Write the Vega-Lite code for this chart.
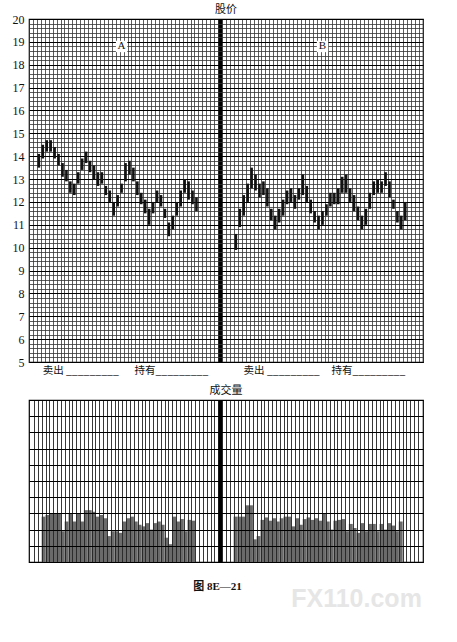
{
  "$schema": "https://vega.github.io/schema/vega-lite/v6.json",
  "background": "white",
  "padding": {"left": 11, "top": 3, "right": 5, "bottom": 5},
  "spacing": 7,
  "config": {
    "view": {"stroke": "#000", "strokeWidth": 1.2},
    "title": {"font": "Noto Sans CJK SC", "fontSize": 11, "fontWeight": "normal", "color": "#111"}
  },
  "datasets": {
    "price": [
      {"panel": "A", "day": 2, "low": 13.5, "high": 14.1},
      {"panel": "A", "day": 3, "low": 13.9, "high": 14.5},
      {"panel": "A", "day": 4, "low": 14.2, "high": 14.7},
      {"panel": "A", "day": 5, "low": 14.2, "high": 14.7},
      {"panel": "A", "day": 6, "low": 13.9, "high": 14.4},
      {"panel": "A", "day": 7, "low": 13.6, "high": 14.1},
      {"panel": "A", "day": 8, "low": 13.1, "high": 13.7},
      {"panel": "A", "day": 9, "low": 12.9, "high": 13.4},
      {"panel": "A", "day": 10, "low": 12.4, "high": 12.9},
      {"panel": "A", "day": 11, "low": 12.3, "high": 12.8},
      {"panel": "A", "day": 12, "low": 12.8, "high": 13.3},
      {"panel": "A", "day": 13, "low": 13.4, "high": 13.9},
      {"panel": "A", "day": 14, "low": 13.7, "high": 14.2},
      {"panel": "A", "day": 15, "low": 13.3, "high": 13.8},
      {"panel": "A", "day": 16, "low": 13.0, "high": 13.6},
      {"panel": "A", "day": 17, "low": 12.7, "high": 13.3},
      {"panel": "A", "day": 18, "low": 12.8, "high": 13.3},
      {"panel": "A", "day": 19, "low": 12.3, "high": 12.7},
      {"panel": "A", "day": 20, "low": 12.0, "high": 12.5},
      {"panel": "A", "day": 21, "low": 11.4, "high": 12.0},
      {"panel": "A", "day": 22, "low": 11.8, "high": 12.3},
      {"panel": "A", "day": 23, "low": 12.4, "high": 12.8},
      {"panel": "A", "day": 24, "low": 12.9, "high": 13.7},
      {"panel": "A", "day": 25, "low": 13.2, "high": 13.8},
      {"panel": "A", "day": 26, "low": 12.9, "high": 13.5},
      {"panel": "A", "day": 27, "low": 12.3, "high": 12.9},
      {"panel": "A", "day": 28, "low": 11.9, "high": 12.4},
      {"panel": "A", "day": 29, "low": 11.5, "high": 12.1},
      {"panel": "A", "day": 30, "low": 11.0, "high": 11.7},
      {"panel": "A", "day": 31, "low": 11.5, "high": 12.0},
      {"panel": "A", "day": 32, "low": 12.0, "high": 12.5},
      {"panel": "A", "day": 33, "low": 11.8, "high": 12.3},
      {"panel": "A", "day": 34, "low": 11.3, "high": 11.7},
      {"panel": "A", "day": 35, "low": 10.5, "high": 11.1},
      {"panel": "A", "day": 36, "low": 10.8, "high": 11.4},
      {"panel": "A", "day": 37, "low": 11.4, "high": 12.0},
      {"panel": "A", "day": 38, "low": 11.8, "high": 12.5},
      {"panel": "A", "day": 39, "low": 12.4, "high": 13.0},
      {"panel": "A", "day": 40, "low": 12.1, "high": 12.9},
      {"panel": "A", "day": 41, "low": 11.9, "high": 12.5},
      {"panel": "A", "day": 42, "low": 11.6, "high": 12.2},
      {"panel": "B", "day": 52, "low": 9.9, "high": 10.6},
      {"panel": "B", "day": 53, "low": 10.9, "high": 11.7},
      {"panel": "B", "day": 54, "low": 11.4, "high": 12.3},
      {"panel": "B", "day": 55, "low": 12.0, "high": 12.8},
      {"panel": "B", "day": 56, "low": 12.6, "high": 13.5},
      {"panel": "B", "day": 57, "low": 12.5, "high": 13.2},
      {"panel": "B", "day": 58, "low": 12.2, "high": 12.8},
      {"panel": "B", "day": 59, "low": 12.3, "high": 12.9},
      {"panel": "B", "day": 60, "low": 11.8, "high": 12.6},
      {"panel": "B", "day": 61, "low": 11.2, "high": 11.7},
      {"panel": "B", "day": 62, "low": 10.8, "high": 11.4},
      {"panel": "B", "day": 63, "low": 11.1, "high": 11.7},
      {"panel": "B", "day": 64, "low": 11.4, "high": 12.1},
      {"panel": "B", "day": 65, "low": 11.9, "high": 12.5},
      {"panel": "B", "day": 66, "low": 12.0, "high": 12.6},
      {"panel": "B", "day": 67, "low": 11.7, "high": 12.3},
      {"panel": "B", "day": 68, "low": 12.1, "high": 12.6},
      {"panel": "B", "day": 69, "low": 12.3, "high": 13.2},
      {"panel": "B", "day": 70, "low": 12.0, "high": 12.7},
      {"panel": "B", "day": 71, "low": 11.5, "high": 12.1},
      {"panel": "B", "day": 72, "low": 11.1, "high": 11.6},
      {"panel": "B", "day": 73, "low": 10.8, "high": 11.4},
      {"panel": "B", "day": 74, "low": 11.0, "high": 11.6},
      {"panel": "B", "day": 75, "low": 11.4, "high": 11.9},
      {"panel": "B", "day": 76, "low": 11.8, "high": 12.4},
      {"panel": "B", "day": 77, "low": 11.9, "high": 12.4},
      {"panel": "B", "day": 78, "low": 11.9, "high": 12.6},
      {"panel": "B", "day": 79, "low": 12.4, "high": 13.1},
      {"panel": "B", "day": 80, "low": 12.4, "high": 13.2},
      {"panel": "B", "day": 81, "low": 12.0, "high": 12.6},
      {"panel": "B", "day": 82, "low": 11.6, "high": 12.3},
      {"panel": "B", "day": 83, "low": 11.2, "high": 11.8},
      {"panel": "B", "day": 84, "low": 10.8, "high": 11.4},
      {"panel": "B", "day": 85, "low": 11.0, "high": 11.7},
      {"panel": "B", "day": 86, "low": 11.7, "high": 12.4},
      {"panel": "B", "day": 87, "low": 12.3, "high": 12.9},
      {"panel": "B", "day": 88, "low": 12.4, "high": 13.0},
      {"panel": "B", "day": 89, "low": 12.4, "high": 12.9},
      {"panel": "B", "day": 90, "low": 12.7, "high": 13.3},
      {"panel": "B", "day": 91, "low": 12.2, "high": 12.9},
      {"panel": "B", "day": 92, "low": 11.7, "high": 12.1},
      {"panel": "B", "day": 93, "low": 11.1, "high": 11.6},
      {"panel": "B", "day": 94, "low": 10.8, "high": 11.4},
      {"panel": "B", "day": 95, "low": 11.2, "high": 12.0}
    ],
    "volume": [
      {"panel": "A", "day": 2, "volume": 2.8},
      {"panel": "A", "day": 3, "volume": 2.9},
      {"panel": "A", "day": 4, "volume": 3.0},
      {"panel": "A", "day": 5, "volume": 3.0},
      {"panel": "A", "day": 6, "volume": 3.0},
      {"panel": "A", "day": 7, "volume": 1.9},
      {"panel": "A", "day": 8, "volume": 2.5},
      {"panel": "A", "day": 9, "volume": 3.0},
      {"panel": "A", "day": 10, "volume": 2.5},
      {"panel": "A", "day": 11, "volume": 3.0},
      {"panel": "A", "day": 12, "volume": 2.5},
      {"panel": "A", "day": 13, "volume": 3.2},
      {"panel": "A", "day": 14, "volume": 3.2},
      {"panel": "A", "day": 15, "volume": 3.1},
      {"panel": "A", "day": 16, "volume": 2.8},
      {"panel": "A", "day": 17, "volume": 2.9},
      {"panel": "A", "day": 18, "volume": 2.7},
      {"panel": "A", "day": 19, "volume": 1.6},
      {"panel": "A", "day": 20, "volume": 1.9},
      {"panel": "A", "day": 21, "volume": 1.9},
      {"panel": "A", "day": 22, "volume": 1.8},
      {"panel": "A", "day": 23, "volume": 2.5},
      {"panel": "A", "day": 24, "volume": 2.7},
      {"panel": "A", "day": 25, "volume": 2.8},
      {"panel": "A", "day": 26, "volume": 2.5},
      {"panel": "A", "day": 27, "volume": 2.3},
      {"panel": "A", "day": 28, "volume": 2.2},
      {"panel": "A", "day": 29, "volume": 2.4},
      {"panel": "A", "day": 30, "volume": 2.0},
      {"panel": "A", "day": 31, "volume": 2.4},
      {"panel": "A", "day": 32, "volume": 2.5},
      {"panel": "A", "day": 33, "volume": 2.3},
      {"panel": "A", "day": 34, "volume": 1.5},
      {"panel": "A", "day": 35, "volume": 1.1},
      {"panel": "A", "day": 36, "volume": 2.8},
      {"panel": "A", "day": 37, "volume": 2.5},
      {"panel": "A", "day": 38, "volume": 2.65},
      {"panel": "A", "day": 39, "volume": 1.9},
      {"panel": "A", "day": 40, "volume": 2.6},
      {"panel": "A", "day": 41, "volume": 2.55},
      {"panel": "B", "day": 52, "volume": 2.8},
      {"panel": "B", "day": 53, "volume": 2.8},
      {"panel": "B", "day": 54, "volume": 2.8},
      {"panel": "B", "day": 55, "volume": 3.5},
      {"panel": "B", "day": 56, "volume": 3.5},
      {"panel": "B", "day": 57, "volume": 1.4},
      {"panel": "B", "day": 58, "volume": 1.6},
      {"panel": "B", "day": 59, "volume": 2.6},
      {"panel": "B", "day": 60, "volume": 2.75},
      {"panel": "B", "day": 61, "volume": 2.55},
      {"panel": "B", "day": 62, "volume": 2.7},
      {"panel": "B", "day": 63, "volume": 2.5},
      {"panel": "B", "day": 64, "volume": 2.7},
      {"panel": "B", "day": 65, "volume": 2.8},
      {"panel": "B", "day": 66, "volume": 2.8},
      {"panel": "B", "day": 67, "volume": 2.2},
      {"panel": "B", "day": 68, "volume": 2.7},
      {"panel": "B", "day": 69, "volume": 2.3},
      {"panel": "B", "day": 70, "volume": 2.65},
      {"panel": "B", "day": 71, "volume": 2.75},
      {"panel": "B", "day": 72, "volume": 2.6},
      {"panel": "B", "day": 73, "volume": 2.7},
      {"panel": "B", "day": 74, "volume": 2.55},
      {"panel": "B", "day": 75, "volume": 3.0},
      {"panel": "B", "day": 76, "volume": 2.5},
      {"panel": "B", "day": 77, "volume": 2.0},
      {"panel": "B", "day": 78, "volume": 2.55},
      {"panel": "B", "day": 79, "volume": 2.6},
      {"panel": "B", "day": 80, "volume": 2.65},
      {"panel": "B", "day": 81, "volume": 1.9},
      {"panel": "B", "day": 82, "volume": 2.35},
      {"panel": "B", "day": 83, "volume": 2.1},
      {"panel": "B", "day": 84, "volume": 1.8},
      {"panel": "B", "day": 85, "volume": 2.4},
      {"panel": "B", "day": 86, "volume": 1.9},
      {"panel": "B", "day": 87, "volume": 2.35},
      {"panel": "B", "day": 88, "volume": 2.35},
      {"panel": "B", "day": 89, "volume": 1.9},
      {"panel": "B", "day": 90, "volume": 2.35},
      {"panel": "B", "day": 91, "volume": 2.0},
      {"panel": "B", "day": 92, "volume": 2.4},
      {"panel": "B", "day": 93, "volume": 2.25},
      {"panel": "B", "day": 94, "volume": 1.9},
      {"panel": "B", "day": 95, "volume": 2.5}
    ],
    "labels": [
      {"name": "A", "day": 23, "price": 18.8},
      {"name": "B", "day": 74, "price": 18.8}
    ]
  },
  "vconcat": [
    {
      "width": 394,
      "height": 343,
      "title": {"text": "股价", "offset": -2},
      "layer": [
        {
          "data": {"name": "price"},
          "mark": {"type": "rule", "strokeWidth": 2.6, "color": "#111"},
          "encoding": {
            "x": {
              "field": "day", "type": "quantitative",
              "scale": {"domain": [-0.5, 99.5], "nice": false, "zero": false},
              "axis": {
                "title": null,
                "tickCount": 1000,
                "values": [-0.5,0.5,1.5,2.5,3.5,4.5,5.5,6.5,7.5,8.5,9.5,10.5,11.5,12.5,13.5,14.5,15.5,16.5,17.5,18.5,19.5,20.5,21.5,22.5,23.5,24.5,25.5,26.5,27.5,28.5,29.5,30.5,31.5,32.5,33.5,34.5,35.5,36.5,37.5,38.5,39.5,40.5,41.5,42.5,43.5,44.5,45.5,46.5,47.5,48,48.5,49.5,50.5,51.5,52.5,53.5,54.5,55.5,56.5,57.5,58.5,59.5,60.5,61.5,62.5,63.5,64.5,65.5,66.5,67.5,68.5,69.5,70.5,71.5,72.5,73.5,74.5,75.5,76.5,77.5,78.5,79.5,80.5,81.5,82.5,83.5,84.5,85.5,86.5,87.5,88.5,89.5,90.5,91.5,92.5,93.5,94.5,95.5,96.5,97.5,98.5,99.5],
                "grid": true,
                "gridColor": {"condition": {"test": "datum.value === 48", "value": "#000"}, "value": "#333"},
                "gridWidth": {"condition": {"test": "datum.value === 48", "value": 4.2}, "value": 0.8},
                "gridOpacity": 1,
                "ticks": false,
                "domain": false,
                "labelExpr": "datum.value === 12.5 || datum.value === 63.5 ? '卖出 _________' : (datum.value === 35.5 || datum.value === 85.5 ? '持有_________' : '')",
                "labelFont": "Noto Sans CJK SC",
                "labelFontSize": 10.5,
                "labelColor": "#111",
                "labelPadding": 3,
                "labelOverlap": false,
                "labelBound": false,
                "labelFlush": false,
                "labelAngle": 0
              }
            },
            "y": {
              "field": "low", "type": "quantitative",
              "scale": {"domain": [5, 20], "nice": false, "zero": false},
              "axis": {
                "title": null,
                "tickCount": 1000,
                "values": [5,5.2,5.4,5.6,5.8,6,6.2,6.4,6.6,6.8,7,7.2,7.4,7.6,7.8,8,8.2,8.4,8.6,8.8,9,9.2,9.4,9.6,9.8,10,10.2,10.4,10.6,10.8,11,11.2,11.4,11.6,11.8,12,12.2,12.4,12.6,12.8,13,13.2,13.4,13.6,13.8,14,14.2,14.4,14.6,14.8,15,15.2,15.4,15.6,15.8,16,16.2,16.4,16.6,16.8,17,17.2,17.4,17.6,17.8,18,18.2,18.4,18.6,18.8,19,19.2,19.4,19.6,19.8,20],
                "grid": true,
                "gridColor": {"condition": {"test": "datum.value % 1 === 0", "value": "#000"}, "value": "#333"},
                "gridWidth": {"condition": {"test": "datum.value % 1 === 0", "value": 1.1}, "value": 0.8},
                "ticks": false,
                "domain": false,
                "labelExpr": "datum.value % 1 === 0 ? format(datum.value, 'd') : ''",
                "labelFont": "Liberation Serif",
                "labelFontSize": 12,
                "labelColor": "#111",
                "labelPadding": 5,
                "labelOverlap": false,
                "labelBound": false,
                "labelFlush": false
              }
            },
            "y2": {"field": "high"}
          }
        },
        {
          "data": {"name": "labels"},
          "mark": {"type": "square", "filled": true, "color": "white", "opacity": 1, "size": 130},
          "encoding": {
            "x": {"field": "day", "type": "quantitative"},
            "y": {"field": "price", "type": "quantitative"}
          }
        },
        {
          "data": {"name": "labels"},
          "mark": {"type": "text", "font": "Liberation Serif", "fontSize": 11, "color": "#111"},
          "encoding": {
            "x": {"field": "day", "type": "quantitative"},
            "y": {"field": "price", "type": "quantitative"},
            "text": {"field": "name"}
          }
        }
      ]
    },
    {
      "width": 394,
      "height": 162,
      "title": {"text": "成交量", "offset": 4},
      "layer": [
        {
          "data": {"name": "volume"},
          "mark": {"type": "bar", "size": 3.9, "color": "#6a6a6a"},
          "encoding": {
            "x": {
              "field": "day", "type": "quantitative",
              "scale": {"domain": [-0.5, 99.5], "nice": false, "zero": false},
              "axis": {
                "title": null,
                "tickCount": 1000,
                "values": [-0.5,0.5,1.5,2.5,3.5,4.5,5.5,6.5,7.5,8.5,9.5,10.5,11.5,12.5,13.5,14.5,15.5,16.5,17.5,18.5,19.5,20.5,21.5,22.5,23.5,24.5,25.5,26.5,27.5,28.5,29.5,30.5,31.5,32.5,33.5,34.5,35.5,36.5,37.5,38.5,39.5,40.5,41.5,42.5,43.5,44.5,45.5,46.5,47.5,48,48.5,49.5,50.5,51.5,52.5,53.5,54.5,55.5,56.5,57.5,58.5,59.5,60.5,61.5,62.5,63.5,64.5,65.5,66.5,67.5,68.5,69.5,70.5,71.5,72.5,73.5,74.5,75.5,76.5,77.5,78.5,79.5,80.5,81.5,82.5,83.5,84.5,85.5,86.5,87.5,88.5,89.5,90.5,91.5,92.5,93.5,94.5,95.5,96.5,97.5,98.5,99.5],
                "grid": true,
                "gridColor": {"condition": {"test": "datum.value === 48", "value": "#000"}, "value": "#222"},
                "gridWidth": {"condition": {"test": "datum.value === 48", "value": 4.2}, "value": 0.9},
                "gridOpacity": 1,
                "ticks": false,
                "domain": false,
                "labels": false,
                "zindex": 1
              }
            },
            "y": {
              "field": "volume", "type": "quantitative",
              "scale": {"domain": [0, 10], "nice": false},
              "axis": {
                "title": null,
                "tickCount": 100,
                "values": [0,1,2,3,4,5,6,7,8,9,10],
                "grid": true,
                "gridColor": "#000",
                "gridWidth": 1,
                "ticks": false,
                "domain": false,
                "labels": false,
                "zindex": 1
              }
            }
          }
        },
        {
          "data": {"values": [{}]},
          "mark": {"type": "text", "text": "图 8E—21", "font": "'Liberation Serif', 'Noto Sans CJK SC'", "fontWeight": "bold", "fontSize": 11, "color": "#111"},
          "encoding": {
            "x": {"datum": 47.3, "type": "quantitative"},
            "y": {"datum": -1.55, "type": "quantitative"}
          }
        },
        {
          "data": {"values": [{}]},
          "mark": {"type": "text", "text": "FX110.com", "font": "Liberation Sans", "fontWeight": "bold", "fontSize": 25, "color": "#e6e6e6"},
          "encoding": {
            "x": {"datum": 83.5, "type": "quantitative"},
            "y": {"datum": -2.3, "type": "quantitative"}
          }
        }
      ]
    }
  ]
}
